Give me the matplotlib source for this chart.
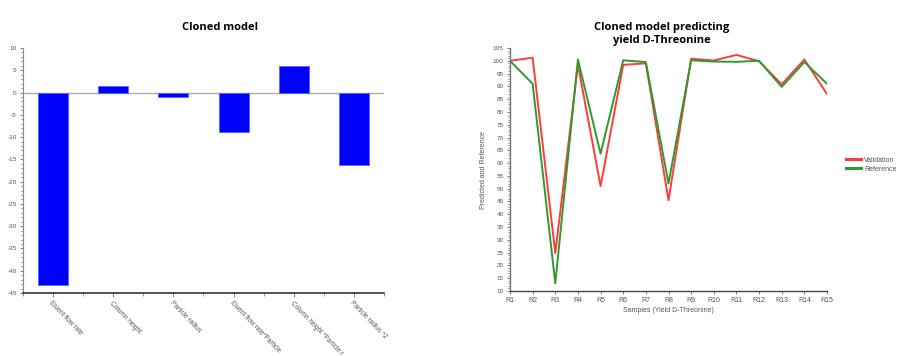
import matplotlib
matplotlib.use("Agg")
import matplotlib.pyplot as plt
from matplotlib.ticker import MultipleLocator
import numpy as np

plt.rcParams["axes.unicode_minus"] = False
plt.rcParams["font.family"] = ["Liberation Sans", "DejaVu Sans"]

# Left chart data
coef_labels = ["Eluent flow rate", "Column height", "Particle radius",
               "Eluent flow rate*Particle", "Column height *Particle r", "Particle radius ^2"]
coef_values = [-43.2, 1.4, -1.0, -8.8, 6.0, -16.2]

# Right chart data
samples = ["R1", "R2", "R3", "R4", "R5", "R6", "R7", "R8", "R9", "R10",
           "R11", "R12", "R13", "R14", "R15"]
validation = [100.0, 101.2, 24.8, 98.5, 51.0, 98.4, 99.0, 45.5, 100.8, 100.1,
              102.3, 99.8, 90.8, 100.5, 87.0]
reference = [100.0, 91.0, 13.0, 100.5, 63.7, 100.2, 99.5, 52.0, 100.2, 99.7,
             99.6, 100.0, 89.8, 99.5, 91.0]

fig = plt.figure(figsize=(9.04, 3.56), dpi=100)
fig.patch.set_facecolor("white")

tick_col = "#555555"
spine_col = "#666666"

# ---------- Left: bar chart ----------
ax1 = fig.add_axes([23/904, 1-293/356, 361/904, 245/356])
x = np.arange(len(coef_values))
ax1.bar(x, coef_values, width=0.5, color="#0000ff", edgecolor="#4d6bff", linewidth=0.6, zorder=3)
ax1.axhline(0, color="#aaaaaa", linewidth=1.0, zorder=2)
ax1.set_xlim(-0.5, 5.5)
ax1.set_ylim(-45, 10)
ax1.yaxis.set_major_locator(MultipleLocator(5))
ax1.yaxis.set_minor_locator(MultipleLocator(1))
ax1.set_xticks(x)
ax1.set_xticks(np.arange(-0.5, 6.0, 1.0), minor=True)
ax1.set_xticklabels(coef_labels, rotation=-46, ha="left", va="top",
                    rotation_mode="anchor", fontsize=4.7, color=tick_col)
ax1.tick_params(axis="y", labelsize=4.6, labelcolor=tick_col, length=2.5, width=0.6, color=spine_col, pad=2)
ax1.tick_params(axis="y", which="minor", length=1.5, width=0.5, color=spine_col)
ax1.tick_params(axis="x", which="major", length=3, width=0.6, color=spine_col, pad=2)
ax1.tick_params(axis="x", which="minor", length=2, width=0.5, color=spine_col)
for s in ["top", "right"]:
    ax1.spines[s].set_visible(False)
ax1.spines["left"].set_color("#888888")
ax1.spines["left"].set_linewidth(0.8)
ax1.spines["bottom"].set_color("#333333")
ax1.spines["bottom"].set_linewidth(1.2)
fig.text(220/904, 1-27/356, "Cloned model", ha="center", va="center",
         fontsize=8, fontweight="bold", family="Open Sans")

# ---------- Right: line chart ----------
ax2 = fig.add_axes([510/904, 1-291/356, 317/904, 243/356])
xi = np.arange(len(samples))
ax2.plot(xi, validation, color="#ff3b3b", linewidth=1.4, label="Validation", zorder=3)
ax2.plot(xi, reference, color="#2e9a2e", linewidth=1.4, label="Reference", zorder=3)
ax2.set_xlim(0, len(samples)-1)
ax2.set_ylim(10, 105)
ax2.yaxis.set_major_locator(MultipleLocator(5))
ax2.yaxis.set_minor_locator(MultipleLocator(1))
ax2.set_xticks(xi)
ax2.set_xticklabels(samples, fontsize=5, color=tick_col)
ax2.tick_params(axis="y", labelsize=4.6, labelcolor=tick_col, length=2.5, width=0.6, color=spine_col, pad=2)
ax2.tick_params(axis="y", which="minor", length=1.5, width=0.5, color=spine_col)
ax2.tick_params(axis="x", length=2.5, width=0.6, color=spine_col, pad=2)
for s in ["top", "right"]:
    ax2.spines[s].set_visible(False)
ax2.spines["left"].set_color("#777777")
ax2.spines["left"].set_linewidth(1.0)
ax2.spines["bottom"].set_color("#444444")
ax2.spines["bottom"].set_linewidth(1.0)
ax2.set_xlabel("Samples (Yield D-Threonine)", fontsize=5, color=tick_col, labelpad=2)
ax2.set_ylabel("Predicted and Reference", fontsize=5, color=tick_col, labelpad=4)
leg = ax2.legend(loc="center left", bbox_to_anchor=(1.04, 0.52), frameon=False,
                 fontsize=5, handlelength=2.2, handletextpad=0.4, labelspacing=0.3,
                 labelcolor=tick_col)
for line in leg.get_lines():
    line.set_linewidth(2.2)
fig.text(662/904, 1-34/356, "Cloned model predicting\nyield D-Threonine", ha="center",
         va="center", fontsize=8, fontweight="bold", family="Open Sans", linespacing=1.2)

fig.savefig("out.png", dpi=100, facecolor="white")
